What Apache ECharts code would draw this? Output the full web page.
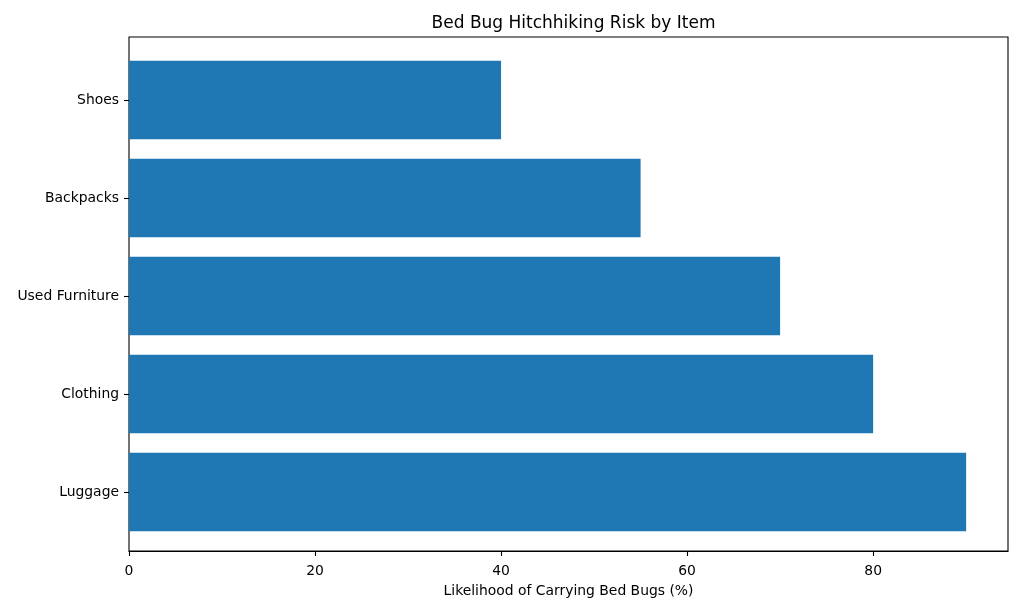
<!DOCTYPE html>
<html>
<head>
<meta charset="utf-8">
<script src="https://cdn.jsdelivr.net/npm/echarts@6/dist/echarts.min.js"></script>
<style>html,body{margin:0;padding:0;background:#fff}#c{width:1024px;height:614px}</style>
</head>
<body>
<div id="c"></div>
<script>
const categories = ['Luggage', 'Clothing', 'Used Furniture', 'Backpacks', 'Shoes'];
const values = [90, 80, 70, 55, 40];
const xTicks = [0, 20, 40, 60, 80];

const chart = echarts.init(document.getElementById('c'));
const font = 'DejaVu Sans';
chart.setOption({
  animation: false,
  backgroundColor: '#fff',
  title: {
    text: 'Bed Bug Hitchhiking Risk by Item',
    left: 568.5, textAlign: 'center', top: 10,
    textStyle: {fontFamily: font, fontSize: 17, fontWeight: 'normal', color: '#000'}
  },
  grid: [
    {left: 129, right: 16, top: 37, bottom: 63, show: true, borderColor: '#000', borderWidth: 1.1, backgroundColor: 'transparent'},
    {left: 129, right: 16, top: 51, bottom: 73}
  ],
  xAxis: [
    {
      gridIndex: 0, type: 'value', min: 0, max: 94.5,
      name: 'Likelihood of Carrying Bed Bugs (%)', nameLocation: 'middle', nameGap: 33,
      nameTextStyle: {fontFamily: font, fontSize: 13.9, color: '#000'},
      splitLine: {show: false},
      axisLine: {show: true, lineStyle: {color: '#000', width: 1.1}},
      axisTick: {show: true, length: 5, lineStyle: {color: '#000', width: 1.1}, customValues: xTicks},
      axisLabel: {fontFamily: font, fontSize: 13.9, color: '#000', margin: 13, customValues: xTicks}
    },
    {
      gridIndex: 1, type: 'value', min: 0, max: 94.5, show: false
    }
  ],
  yAxis: [
    {gridIndex: 0, type: 'value', min: 0, max: 1, show: false},
    {
      gridIndex: 1, type: 'category', data: categories,
      axisLine: {show: false},
      axisTick: {show: true, alignWithLabel: true, length: 5, lineStyle: {color: '#000', width: 1.1}},
      axisLabel: {fontFamily: font, fontSize: 13.9, color: '#000', margin: 10},
      splitLine: {show: false}
    }
  ],
  series: [{
    type: 'bar', xAxisIndex: 1, yAxisIndex: 1,
    data: values, barWidth: '80%',
    itemStyle: {color: '#1f77b4'}
  }]
});
</script>
</body>
</html>
